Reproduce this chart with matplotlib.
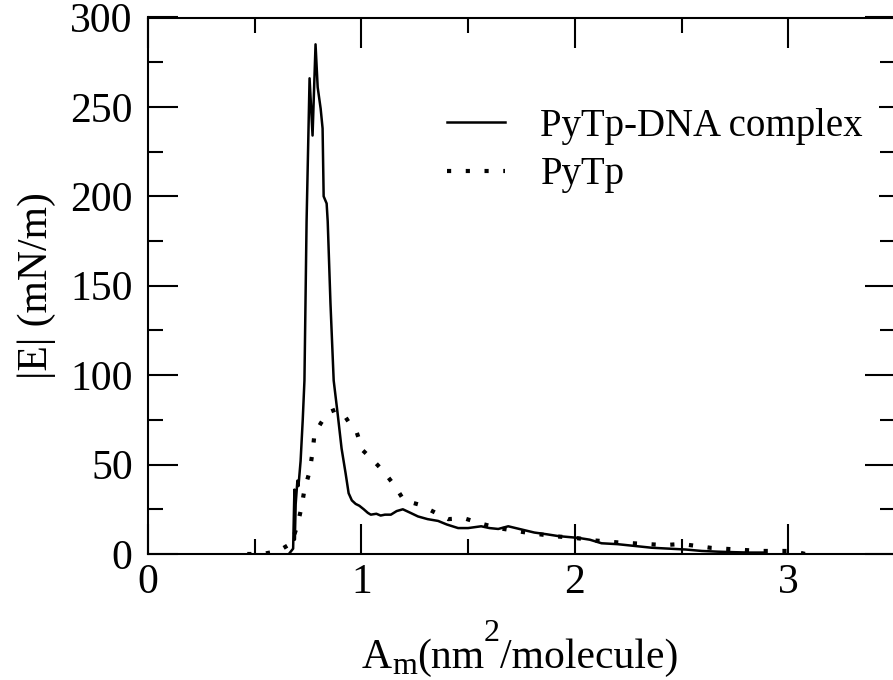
import matplotlib
matplotlib.use('Agg')
import matplotlib.pyplot as plt
from matplotlib.ticker import MultipleLocator

plt.rcParams['font.family'] = ['Liberation Serif', 'DejaVu Serif']

# PyTp-DNA complex (solid)
area_complex = [0.66, 0.68, 0.686, 0.688, 0.692, 0.70, 0.705, 0.715, 0.725, 0.733,
                0.743, 0.757, 0.771, 0.785, 0.795, 0.809, 0.818, 0.823, 0.837, 0.842,
                0.855, 0.870, 0.889, 0.907, 0.926, 0.940, 0.955, 0.973, 0.99, 1.011,
                1.03, 1.044, 1.07, 1.09, 1.11, 1.138, 1.165, 1.194, 1.23, 1.265,
                1.31, 1.359, 1.40, 1.453, 1.50, 1.561, 1.60, 1.641, 1.688, 1.74,
                1.81, 1.87, 1.923, 2.017, 2.07, 2.125, 2.20, 2.28, 2.36, 2.44,
                2.52, 2.595, 2.67, 2.75, 2.82, 2.89]
e_complex = [0, 3, 36, 8, 28, 41, 38, 52, 75, 97,
             186, 266, 234, 285, 261, 249, 238, 200, 196, 186,
             140, 97, 78, 59, 45, 34, 30, 28, 27, 25,
             23, 22, 22.5, 21.5, 22, 22, 24, 25, 23, 21,
             19.5, 18.5, 16.5, 14.5, 14.5, 15.5, 14.5, 14, 15.5, 14,
             12, 11, 10, 9, 8, 6, 5.5, 4.5, 3.5, 3,
             2.5, 1.7, 1.3, 1, 0.8, 0.8]

# PyTp (dotted)
area_pytp = [0.465, 0.536, 0.611, 0.672, 0.700, 0.719, 0.733, 0.757, 0.771, 0.780,
             0.809, 0.842, 0.884, 0.912, 0.950, 0.978, 1.006, 1.058, 1.105, 1.157,
             1.199, 1.274, 1.340, 1.406, 1.481, 1.561, 1.641, 1.772, 1.90, 2.00,
             2.10, 2.20, 2.33, 2.42, 2.50, 2.64, 2.72, 2.80, 2.87, 2.95,
             3.02, 3.08]
e_pytp = [0, 0, 1.7, 6, 16, 26, 36, 46, 57, 67,
          73, 79, 81, 79, 72, 68, 58, 52, 46, 38,
          30, 27.5, 23.5, 19.5, 20, 17, 14.5, 12, 10, 9,
          7.5, 6.5, 5.6, 5, 5.6, 3.4, 2.8, 2.2, 1.7, 1.7,
          1.7, 0]

W, H = 893, 680
fig = plt.figure(figsize=(W / 100, H / 100), dpi=100)
ax = fig.add_axes([148 / W, 126 / H, 747 / W, 536.5 / H])

ax.plot(area_complex, e_complex, color='black', lw=1.8, label='PyTp-DNA complex')
ax.plot(area_pytp, e_pytp, color='black', lw=3, linestyle=(0, (1, 3.5)),
        dash_capstyle='butt', label='PyTp')

ax.set_xlim(0, 3.5)
ax.set_ylim(0, 300)
ax.xaxis.set_major_locator(MultipleLocator(1))
ax.xaxis.set_minor_locator(MultipleLocator(0.5))
ax.yaxis.set_major_locator(MultipleLocator(50))
ax.yaxis.set_minor_locator(MultipleLocator(25))

ax.tick_params(which='both', direction='in', top=True, right=True, width=1.5, labelsize=30)
ax.tick_params(which='major', length=21.6)
ax.tick_params(which='minor', length=10.8)
ax.tick_params(axis='x', pad=7)
ax.tick_params(axis='y', pad=11)
for s in ax.spines.values():
    s.set_linewidth(1.5)

ax.set_ylabel('|E| (mN/m)', fontsize=30, labelpad=10)

# x label built piece by piece: large sub/superscripts like the original
renderer = fig.canvas.get_renderer()
xpos = 362
baseline = 668
pieces = [('A', 0, 30), ('m', -6, 23), ('(nm', 0, 30), ('2', 27, 23), ('/molecule)', 0, 30)]
for txt, dy, size in pieces:
    t = fig.text(xpos / W, (H - baseline + dy) / H, txt, fontsize=size,
                 ha='left', va='baseline')
    xpos += t.get_window_extent(renderer).width

ax.legend(loc='upper right', bbox_to_anchor=(0.978, 0.861), borderaxespad=0,
          fontsize=28, frameon=True, fancybox=False, framealpha=1,
          edgecolor='none', facecolor='white', handlelength=1.5,
          handletextpad=0.9, labelspacing=0.3, borderpad=0.4)

fig.savefig('out.png', dpi=100)
